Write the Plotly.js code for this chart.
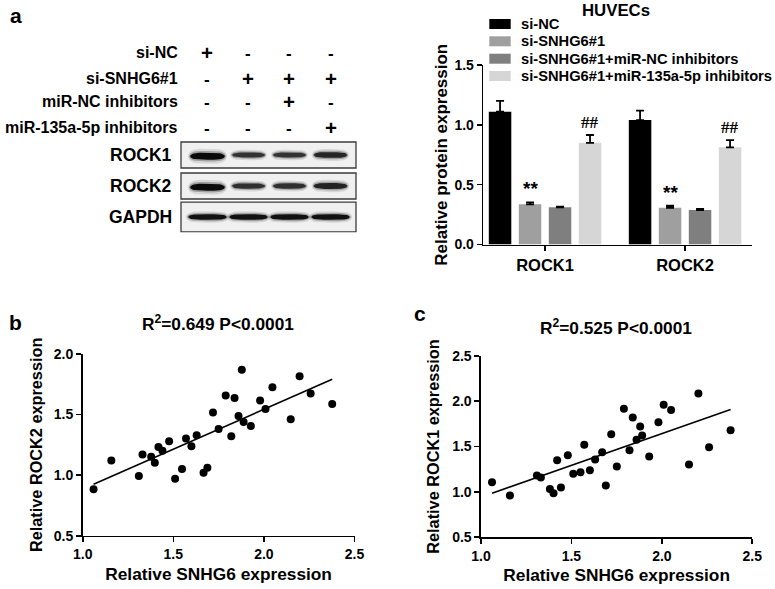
<!DOCTYPE html>
<html>
<head>
<meta charset="utf-8">
<script src="https://cdn.plot.ly/plotly-3.0.1.min.js"></script>
<style>html,body{margin:0;padding:0;background:#fff;}#chart{width:775px;height:589px;}</style>
</head>
<body>
<div id="chart"></div>
<script>
// ---------------- DATA ----------------
// Panel a: western blot treatment table
const lanes = [1, 2, 3, 4];
const tableRows = ['si-NC', 'si-SNHG6#1', 'miR-NC inhibitors', 'miR-135a-5p inhibitors'];
const tableSiNC   = ['+', '-', '-', '-'];
const tableSiSNHG = ['-', '+', '+', '+'];
const tableMiRNC  = ['-', '-', '+', '-'];
const tableMiR135 = ['-', '-', '-', '+'];
// blot rows and relative band intensity (visual)
const blotRows = ['ROCK1', 'ROCK2', 'GAPDH'];
const bandROCK1 = [1.0, 0.5, 0.5, 0.65];
const bandROCK2 = [1.0, 0.55, 0.55, 0.7];
const bandGAPDH = [0.9, 0.9, 0.9, 0.9];

// Panel a: bar chart
const proteins = ['ROCK1', 'ROCK2'];
const seriesNames = ['si-NC', 'si-SNHG6#1', 'si-SNHG6#1+miR-NC inhibitors', 'si-SNHG6#1+miR-135a-5p inhibitors'];
const siNC      = [1.11, 1.04];
const siNC_err  = [0.09, 0.078];
const siSNHG    = [0.336, 0.307];
const siSNHG_err= [0.016, 0.017];
const miRNC     = [0.311, 0.288];
const miRNC_err = [0.006, 0.009];
const miR135    = [0.85, 0.812];
const miR135_err= [0.065, 0.061];
const sigMarks  = ['', '**', '', '##'];

// Panel b / c: correlation
const snhg6 = [1.06, 1.158, 1.31, 1.33, 1.378, 1.398, 1.418, 1.44, 1.477, 1.51, 1.548, 1.57, 1.60, 1.629, 1.667, 1.688,
               1.719, 1.75, 1.789, 1.82, 1.838, 1.86, 1.878, 1.888, 1.928, 1.979, 2.009, 2.047, 2.148, 2.197, 2.258, 2.377];
const rock2 = [0.883, 1.121, 0.993, 1.171, 1.151, 1.102, 1.233, 1.201, 1.28, 0.971, 1.05, 1.302, 1.239, 1.329, 1.02, 1.061,
               1.518, 1.381, 1.658, 1.321, 1.636, 1.488, 1.869, 1.439, 1.406, 1.617, 1.546, 1.726, 1.461, 1.817, 1.674, 1.587];
const snhg6c = [1.061, 1.16, 1.309, 1.331, 1.381, 1.401, 1.421, 1.442, 1.48, 1.51, 1.55, 1.571, 1.602, 1.631, 1.67, 1.69,
               1.72, 1.751, 1.79, 1.821, 1.839, 1.86, 1.88, 1.891, 1.93, 1.981, 2.01, 2.051, 2.15, 2.202, 2.261, 2.38];
const rock1 = [1.107, 0.96, 1.18, 1.158, 1.033, 0.985, 1.349, 1.048, 1.404, 1.199, 1.217, 1.518, 1.239, 1.357, 1.438, 1.07,
               1.636, 1.279, 1.915, 1.46, 1.82, 1.574, 1.721, 1.621, 1.39, 1.768, 1.96, 1.901, 1.301, 2.085, 1.493, 1.68];
const fitB_x = [1.06, 2.377], fitB_y = [0.924, 1.792];
const fitC_x = [1.061, 2.38], fitC_y = [0.985, 1.908];
const titleB = 'R<sup>2</sup>=0.649 P&lt;0.0001';
const titleC = 'R<sup>2</sup>=0.525 P&lt;0.0001';

// ---------------- LAYOUT HELPERS ----------------
const W = 775, H = 589;
const px = x => x / W;
const py = y => 1 - y / H;
const FONT = 'Liberation Sans, Arial, Helvetica, sans-serif';
const bold = (size) => ({family: FONT, size: size, color: '#000', weight: 'bold'});
const colors = ['#000000', '#9f9f9f', '#7f7f7f', '#d6d6d6'];
const BARGAP = 0.143, BARGROUPGAP = 0.25;

const traces = [];
const shapes = [];
const annotations = [];

// ---------------- BLOT ----------------
const bandSets = [bandROCK1, bandROCK2, bandGAPDH];
function band(lane, row, halfW, halfH) {
  const xs = [], ys = [];
  const n = 4;
  for (let k = 0; k <= 48; k++) {
    const t = 2 * Math.PI * k / 48;
    const c = Math.cos(t), s = Math.sin(t);
    xs.push(lane + halfW * Math.sign(c) * Math.pow(Math.abs(c), 2 / n));
    ys.push(row + halfH * s);
  }
  return {xs, ys};
}
blotRows.forEach((name, r) => {
  const half = r === 2 ? 0.48 : 0.42;
  shapes.push({type: 'rect', xref: 'x4 domain', yref: 'y4', x0: 0, x1: 1, y0: r - half, y1: r + half,
               fillcolor: '#f0f0f0', line: {color: '#3a3a3a', width: 1.3}, layer: 'below'});
  annotations.push({xref: 'paper', yref: 'y4', x: px(174), y: r, xanchor: 'right', yanchor: 'middle',
                    text: name, showarrow: false, font: bold(17.5)});
  bandSets[r].forEach((inten, i) => {
    const isG = r === 2;
    const hw = isG ? 0.5 : 0.40 + 0.05 * inten;
    const hh = (isG ? 0.09 : 0.05 + 0.065 * inten);
    const yoff = (i === 0 && r < 2) ? 0.04 : 0;
    const layers = [
      {sw: 1.06, sh: 2.1, col: 'rgba(0,0,0,0.10)'},
      {sw: 1.0, sh: 1.5, col: 'rgba(0,0,0,0.25)'},
      {sw: 0.94, sh: 1.0, col: 'rgba(10,10,10,' + (0.45 + 0.55 * inten).toFixed(2) + ')'}
    ];
    layers.forEach(L => {
      const b = band(lanes[i], r + yoff, hw * L.sw, hh * L.sh);
      traces.push({type: 'scatter', mode: 'lines', x: b.xs, y: b.ys, xaxis: 'x4', yaxis: 'y4',
                   fill: 'toself', fillcolor: L.col, line: {width: 0, color: 'rgba(0,0,0,0)'},
                   hoverinfo: 'skip', showlegend: false});
    });
  });
});
// treatment table
const tableVals = [tableSiNC, tableSiSNHG, tableMiRNC, tableMiR135];
const tableY = [53, 78, 102, 127];
tableRows.forEach((name, r) => {
  annotations.push({xref: 'paper', yref: 'paper', x: px(180), y: py(tableY[r]), xanchor: 'right', yanchor: 'middle',
                    text: name, showarrow: false, font: bold(16)});
  tableVals[r].forEach((v, i) => {
    annotations.push({xref: 'x4', yref: 'paper', x: lanes[i], y: py(tableY[r] + (v === '+' ? 0 : 1)), xanchor: 'center', yanchor: 'middle',
                      text: v, showarrow: false, font: bold(v === '+' ? 20.5 : 17)});
  });
});

// ---------------- BAR CHART ----------------
const barY = [siNC, siSNHG, miRNC, miR135];
const barE = [siNC_err, siSNHG_err, miRNC_err, miR135_err];
seriesNames.forEach((nm, s) => {
  traces.push({type: 'bar', name: nm, x: proteins, y: barY[s], xaxis: 'x', yaxis: 'y',
               marker: {color: colors[s], line: {width: 0}},
               error_y: {type: 'data', symmetric: false, array: barE[s], arrayminus: barY[s].map(() => 0),
                         color: '#000', thickness: 1.8, width: 4},
               showlegend: false, hoverinfo: 'y'});
});
const slot = (1 - BARGAP) / seriesNames.length;
sigMarks.forEach((m, s) => {
  if (!m) return;
  proteins.forEach((p, c) => {
    annotations.push({xref: 'x', yref: 'y', x: c + (s - 1.5) * slot, y: barY[s][c] + barE[s][c],
                      yshift: 1, xanchor: 'center', yanchor: 'bottom', text: m, showarrow: false,
                      font: m === '##' ? {family: 'Liberation Serif, Times New Roman, serif', size: 17, color: '#000'}
                                       : {family: FONT, size: 19, color: '#000'}});
  });
});
// manual legend
const legY = [24, 41.3, 58.7, 76];
seriesNames.forEach((nm, s) => {
  shapes.push({type: 'rect', xref: 'paper', yref: 'paper', x0: px(489.3), x1: px(510.7), y0: py(legY[s] + 5), y1: py(legY[s] - 5),
               fillcolor: colors[s], line: {width: 0}});
  annotations.push({xref: 'paper', yref: 'paper', x: px(519), y: py(legY[s]), xanchor: 'left', yanchor: 'middle',
                    text: nm, showarrow: false, font: bold(14.7)});
});
annotations.push({xref: 'paper', yref: 'paper', x: px(616), y: py(10), xanchor: 'center', yanchor: 'middle',
                  text: 'HUVECs', showarrow: false, font: bold(16.8)});

// ---------------- SCATTERS ----------------
traces.push({type: 'scatter', mode: 'markers', x: snhg6, y: rock2, xaxis: 'x2', yaxis: 'y2',
             marker: {color: '#000', size: 8}, showlegend: false});
traces.push({type: 'scatter', mode: 'lines', x: fitB_x, y: fitB_y, xaxis: 'x2', yaxis: 'y2',
             line: {color: '#000', width: 1.6}, showlegend: false});
traces.push({type: 'scatter', mode: 'markers', x: snhg6c, y: rock1, xaxis: 'x3', yaxis: 'y3',
             marker: {color: '#000', size: 8}, showlegend: false});
traces.push({type: 'scatter', mode: 'lines', x: fitC_x, y: fitC_y, xaxis: 'x3', yaxis: 'y3',
             line: {color: '#000', width: 1.6}, showlegend: false});
annotations.push({xref: 'paper', yref: 'paper', x: px(217.5), y: py(323), xanchor: 'center', yanchor: 'middle',
                  text: titleB, showarrow: false, font: bold(17.3)});
annotations.push({xref: 'paper', yref: 'paper', x: px(616), y: py(327), xanchor: 'center', yanchor: 'middle',
                  text: titleC, showarrow: false, font: bold(17.3)});
// panel letters
[['a', 16, 15], ['b', 15, 322], ['c', 420, 313]].forEach(l => {
  annotations.push({xref: 'paper', yref: 'paper', x: px(l[1]), y: py(l[2]), xanchor: 'center', yanchor: 'middle',
                    text: l[0], showarrow: false, font: bold(21)});
});

const axBase = {showgrid: false, zeroline: false, showline: true, linecolor: '#000', linewidth: 1.6,
                ticks: 'outside', ticklen: 5, tickwidth: 1.6, tickcolor: '#000', fixedrange: true};

const layout = {
  width: W, height: H, margin: {l: 0, r: 0, t: 0, b: 0},
  paper_bgcolor: '#fff', plot_bgcolor: 'rgba(0,0,0,0)',
  font: {family: FONT, color: '#000', weight: 'bold'},
  showlegend: false,
  barmode: 'group', bargap: BARGAP, bargroupgap: BARGROUPGAP,
  xaxis: Object.assign({}, axBase, {domain: [px(483.3), px(751.7)], range: [-0.441, 1.476], anchor: 'y',
          type: 'category', tickfont: bold(16.5), ticklabelstandoff: 0}),
  yaxis: Object.assign({}, axBase, {domain: [py(244.5), py(65)], range: [0, 1.5], dtick: 0.5, tickformat: '.1f', anchor: 'x',
          tickfont: bold(14), title: {text: 'Relative protein expression', font: bold(17), standoff: 2}}),
  xaxis2: Object.assign({}, axBase, {domain: [px(82.7), px(354.5)], range: [1, 2.5], dtick: 0.5, tickformat: '.1f', anchor: 'y2',
          tickfont: bold(14), title: {text: 'Relative SNHG6 expression', font: bold(17.3), standoff: 7}}),
  yaxis2: Object.assign({}, axBase, {domain: [py(535.7), py(354)], range: [0.5, 2], dtick: 0.5, tickformat: '.1f', anchor: 'x2',
          tickfont: bold(14), title: {text: 'Relative ROCK2 expression', font: bold(16.3), standoff: 7}}),
  xaxis3: Object.assign({}, axBase, {domain: [px(481), px(752.3)], range: [1, 2.5], dtick: 0.5, tickformat: '.1f', anchor: 'y3',
          tickfont: bold(14), title: {text: 'Relative SNHG6 expression', font: bold(17.3), standoff: 6}}),
  yaxis3: Object.assign({}, axBase, {domain: [py(537.3), py(355.7)], range: [0.5, 2.5], dtick: 0.5, tickformat: '.1f', anchor: 'x3',
          tickfont: bold(14), title: {text: 'Relative ROCK1 expression', font: bold(16.3), standoff: 8}}),
  xaxis4: {domain: [px(181), px(356)], range: [0.354, 4.622], visible: false, anchor: 'y4', fixedrange: true},
  yaxis4: {domain: [py(232.5), py(139.5)], range: [2.5, -0.5], visible: false, anchor: 'x4', fixedrange: true},
  shapes: shapes,
  annotations: annotations
};

Plotly.newPlot('chart', traces, layout, {displayModeBar: false, staticPlot: true});
</script>
</body>
</html>
